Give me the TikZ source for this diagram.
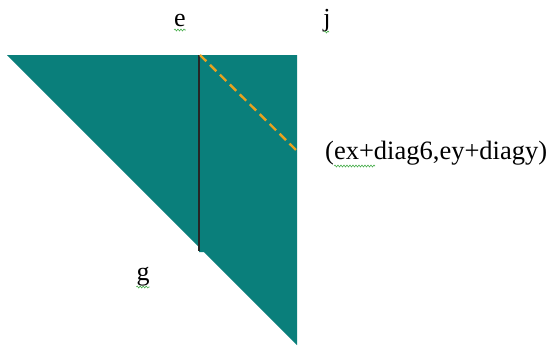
\documentclass[tikz,border=0pt]{standalone}
\usepackage{fontspec}
\setmainfont{Liberation Serif}
\usetikzlibrary{
  positioning,
  calc,
  decorations.pathmorphing
}
\definecolor{dgTeal}{HTML}{0A7F7B}
\definecolor{dgDash}{HTML}{E8A21E}
\definecolor{dgSpell}{HTML}{4CAF50}
\tikzset{
  plate/.style={fill=dgTeal, draw=none},
  cutline/.style={draw=black!85, line width=1.8pt},
  diagline/.style={draw=dgDash, line width=2.4pt, dash pattern=on 9pt off 5pt},
  ptlabel/.style={font=\fontsize{26}{30}\selectfont, inner sep=0pt, anchor=base},
  coordlabel/.style={font=\fontsize{26.5}{30}\selectfont, inner sep=0pt, anchor=base west},
  squiggle/.style={draw=dgSpell, line width=0.6pt,
    decorate, decoration={snake, amplitude=1pt, segment length=3pt}}
}

\begin{document}
\begin{tikzpicture}[x=1pt,y=-1pt]
  \useasboundingbox (0,0) rectangle (548,348);
  % corners of the plate
  \coordinate (tl) at (7,55);
  \coordinate (tm) at (199,55);
  \coordinate (tr) at (297,55);
  \coordinate (br) at (297,345);
  \fill[plate] (tl) -- (tm) -- (199,247) -- cycle;
  \fill[plate] (tm) -- (tr) -- (br) -- (204,252) -- (199,252) -- cycle;
  % cut and diagonal
  \coordinate (cutend) at (199,251);
  \coordinate (dgend) at (296,150);
  \draw[cutline] (tm) -- (cutend);
  \draw[diagline] ([xshift=1pt]tm) -- (dgend);
  % labels
  \node[ptlabel] (e) at (180,26) {e};
  \node[ptlabel] (j) at (327,26) {j};
  \node[ptlabel] (g) at (143,280) {g};
  \node[coordlabel] (pt) at (325,159) {(ex+diag6,ey+diagy)};
  \draw[squiggle] ([yshift=-4pt]e.base west) -- ([yshift=-4pt]e.base east);
  \draw[squiggle] ([xshift=-3pt,yshift=-6pt]j.base) -- ([xshift=2pt,yshift=-6pt]j.base);
  \draw[squiggle] ([yshift=-7pt]g.base west) -- ([yshift=-7pt]g.base east);
  \draw[squiggle] ([xshift=9pt,yshift=-7pt]pt.base west) -- ([xshift=50pt,yshift=-7pt]pt.base west);
\end{tikzpicture}
\end{document}
